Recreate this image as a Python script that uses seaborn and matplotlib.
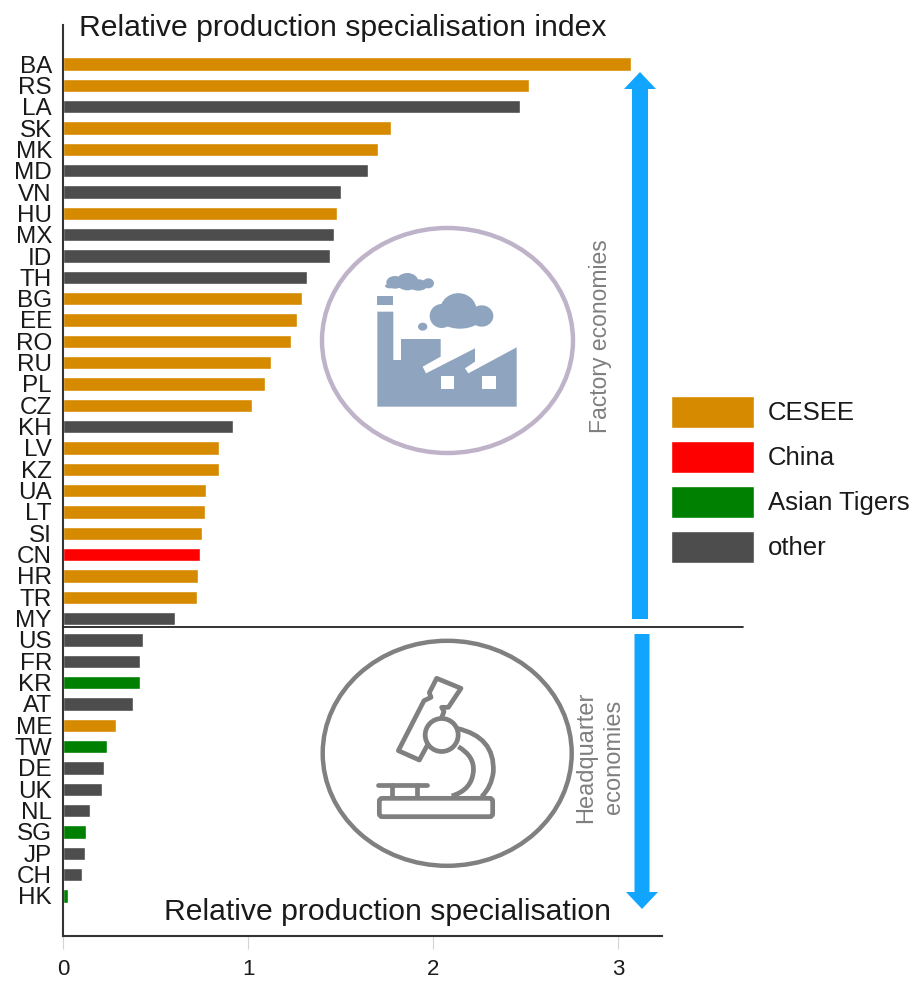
import matplotlib
matplotlib.use("Agg")
import matplotlib.pyplot as plt
import matplotlib.patches as mpatches
from matplotlib.path import Path
import pandas as pd
import seaborn as sns

# values
codes = ["BA", "RS", "LA", "SK", "MK", "MD", "VN", "HU", "MX", "ID", "TH", "BG", "EE", "RO",
         "RU", "PL", "CZ", "KH", "LV", "KZ", "UA", "LT", "SI", "CN", "HR", "TR", "MY",
         "US", "FR", "KR", "AT", "ME", "TW", "DE", "UK", "NL", "SG", "JP", "CH", "HK"]
values = [3.07, 2.52, 2.47, 1.775, 1.70, 1.65, 1.50, 1.48, 1.465, 1.445, 1.32, 1.29, 1.265, 1.23,
          1.125, 1.09, 1.02, 0.92, 0.845, 0.845, 0.775, 0.77, 0.75, 0.74, 0.73, 0.725, 0.605,
          0.43, 0.415, 0.415, 0.38, 0.285, 0.24, 0.22, 0.21, 0.145, 0.125, 0.12, 0.105, 0.025]
groups = ["CESEE", "CESEE", "other", "CESEE", "CESEE", "other", "other", "CESEE", "other", "other",
          "other", "CESEE", "CESEE", "CESEE", "CESEE", "CESEE", "CESEE", "other", "CESEE", "CESEE",
          "CESEE", "CESEE", "CESEE", "China", "CESEE", "CESEE", "other",
          "other", "other", "Asian Tigers", "other", "CESEE", "Asian Tigers", "other", "other",
          "other", "Asian Tigers", "other", "other", "Asian Tigers"]
group_names = ["CESEE", "China", "Asian Tigers", "other"]
group_colors = ["#d58a00", "#ff0000", "#008000", "#4d4d4d"]

W, H = 913, 981
ARROW = "#12a5ff"
FACTORY = "#8fa5bf"
SCOPE = "#808080"
LABEL = "#7f7f7f"
INK = "#1a1a1a"

sns.set_theme(style="white")
plt.rcParams["font.family"] = ["Liberation Sans", "DejaVu Sans"]

df = pd.DataFrame({"code": codes, "value": values, "group": groups})

fig = plt.figure(figsize=(W / 100, H / 100), dpi=100)
ax = fig.add_axes([63 / W, 1 - 936 / H, 599 / W, 911 / H])
sns.barplot(data=df, y="code", x="value", hue="group", order=codes, hue_order=group_names,
            palette=dict(zip(group_names, group_colors)), dodge=False, width=0.62, saturation=1, ax=ax)
ax.set_xlim(0, 599 / 185)
ax.set_ylim(40.88, -1.83)
ax.set_xticks([0, 1, 2, 3])
ax.set_xlabel("")
ax.set_ylabel("")
ax.tick_params(axis="x", length=9.5, width=0.8, color="#d4d4d4", labelsize=16, labelcolor=INK, pad=7, bottom=True)
ax.tick_params(axis="y", length=0, labelsize=17.5, labelcolor=INK, pad=8)
sns.despine(ax=ax)
for side in ["left", "bottom"]:
    ax.spines[side].set_color("#333333")
    ax.spines[side].set_linewidth(1.5)

handles, labels = ax.get_legend_handles_labels()
ax.get_legend().remove()
fig.legend(handles, labels, loc="upper left", bbox_to_anchor=(671 / W, 1 - 396 / H), frameon=False,
           fontsize=18.5, handlelength=3.23, handleheight=1.54, handletextpad=0.54, labelspacing=0.5,
           borderaxespad=0, borderpad=0, labelcolor=INK)

# overlay in pixel coordinates for the annotations and icons
over = fig.add_axes([0, 0, 1, 1], facecolor="none")
over.set_xlim(0, W)
over.set_ylim(H, 0)
over.axis("off")

over.text(342.5, 28, "Relative production specialisation index", fontsize=21.7, color=INK, ha="center", va="center")
over.text(387.5, 912, "Relative production specialisation", fontsize=21.7, color=INK, ha="center", va="center")
over.plot([63, 743], [627, 627], color="#222222", lw=1.3)

over.add_patch(mpatches.FancyArrow(640, 619, 0, -547, width=16, head_width=32, head_length=17,
                                   length_includes_head=True, color=ARROW, lw=0))
over.add_patch(mpatches.FancyArrow(642, 634, 0, 275, width=15, head_width=32, head_length=17,
                                   length_includes_head=True, color=ARROW, lw=0))
over.text(600, 336, "Factory economies", rotation=90, fontsize=16.5, color=LABEL, ha="center", va="center")
over.text(600, 757, "Headquarter\neconomies", rotation=90, fontsize=17, color=LABEL, ha="center", va="center",
          linespacing=1.3)


# factory icon, points taken from a 3x crop starting at (300, 210)
def fx(p):
    return (300 + p[0] / 3, 210 + p[1] / 3)


over.add_patch(mpatches.Ellipse((447.5, 340.5), 251, 225, fill=False, ec="#bfb3c9", lw=3.2))
body = [(232, 590), (232, 305), (280, 305), (280, 450), (303, 450), (303, 387), (422, 387), (422, 440),
        (368, 470), (378, 490), (525, 415), (525, 455), (495, 475), (505, 490), (650, 412), (650, 590)]
over.add_patch(mpatches.Polygon([fx(p) for p in body], fc=FACTORY, ec="none"))
over.add_patch(mpatches.Polygon([fx(p) for p in [(232, 257), (280, 257), (280, 285), (232, 285)]], fc=FACTORY, ec="none"))
for x0, x1 in [(422, 462), (545, 587)]:
    over.add_patch(mpatches.Polygon([fx(p) for p in [(x0, 498), (x1, 498), (x1, 538), (x0, 538)]], fc="white", ec="none"))
blobs = [(368, 350, 28, 24), (475, 302, 110, 105), (425, 318, 72, 72), (545, 318, 70, 64), (480, 320, 130, 72),
         (322, 215, 66, 52), (285, 217, 52, 38), (355, 225, 56, 34), (385, 220, 34, 30), (270, 228, 30, 14)]
for cx, cy, w, h in blobs:
    over.add_patch(mpatches.Ellipse(fx((cx, cy)), w / 3, h / 3, fc=FACTORY, ec="none"))


# microscope icon, points taken from a 3x crop starting at (300, 620)
def mx(p):
    return (300 + p[0] / 3, 620 + p[1] / 3)


over.add_patch(mpatches.Ellipse((447.2, 753.3), 249, 225, fill=False, ec=SCOPE, lw=3.2))
tube = [(295, 392), (358, 420), (418, 310), (432, 275), (425, 262), (445, 262), (483, 205), (410, 175),
        (388, 218), (393, 232), (372, 242)]
over.add_patch(mpatches.Polygon([mx(p) for p in tube], fc="white", ec=SCOPE, lw=3.4, joinstyle="round"))
arm = Path([mx(p) for p in [(470, 325), (585, 350), (580, 455), (575, 500), (545, 530),
                            (475, 380), (525, 410), (520, 455), (515, 510), (455, 528)]],
           [Path.MOVETO, Path.CURVE3, Path.CURVE3, Path.CURVE3, Path.CURVE3,
            Path.MOVETO, Path.CURVE3, Path.CURVE3, Path.CURVE3, Path.CURVE3])
over.add_patch(mpatches.PathPatch(arm, fill=False, ec=SCOPE, lw=3.4))
over.add_patch(mpatches.Circle(mx((425, 345)), 16.5, fc="white", ec=SCOPE, lw=3.4))
for a, b in [((235, 495), (382, 495)), ((275, 495), (275, 530)), ((350, 495), (350, 530))]:
    pa, pb = mx(a), mx(b)
    over.plot([pa[0], pb[0]], [pa[1], pb[1]], color=SCOPE, lw=3.4, solid_capstyle="round")
base = mx((238, 535))
over.add_patch(mpatches.FancyBboxPatch(base, 340 / 3, 55 / 3, boxstyle="round,pad=0,rounding_size=3",
                                       fc="white", ec=SCOPE, lw=3.4))

fig.savefig("out.png", dpi=100)
